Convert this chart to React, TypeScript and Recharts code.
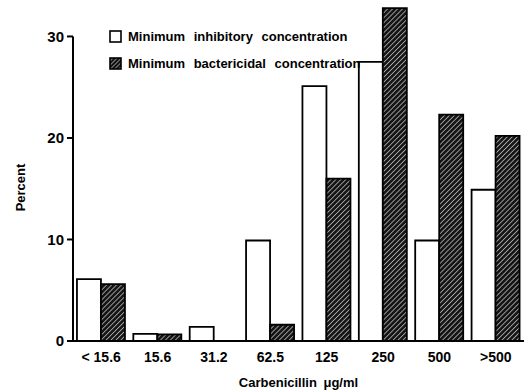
import React from 'react';
import {
  BarChart,
  Bar,
  XAxis,
  YAxis,
  ReferenceArea,
} from 'recharts';

const concentrations = ['< 15.6', '15.6', '31.2', '62.5', '125', '250', '500', '>500'];
const micValues = [6.1, 0.7, 1.4, 9.9, 25.1, 27.5, 9.9, 14.9];
const mbcValues = [5.6, 0.65, 0, 1.6, 16.0, 32.8, 22.3, 20.2];
const yTicks = [0, 10, 20, 30];
const seriesNames = ['Minimum inhibitory concentration', 'Minimum bactericidal concentration'];

const chartData = concentrations.map((c, i) => ({
  conc: c,
  mic: micValues[i],
  mbc: mbcValues[i],
}));

const font = '"Liberation Sans", Arial, sans-serif';

// draws the left axis line only up to the top tick (30), like the original
const AxisSpine = (props: any) => (
  <line
    x1={props.x}
    y1={props.y}
    x2={props.x}
    y2={props.y + props.height}
    stroke="#000"
    strokeWidth={2}
  />
);

const PercentLabel = (props: any) => {
  const vb = props.viewBox;
  const x = vb.x + 20;
  const y = vb.y + vb.height / 2 + 14;
  return (
    <text
      x={x}
      y={y}
      transform={`rotate(-90, ${x}, ${y})`}
      textAnchor="middle"
      dominantBaseline="central"
      fontFamily={font}
      fontWeight="bold"
      fontSize={13}
      fill="#000"
    >
      Percent
    </text>
  );
};

const Swatch = ({ hatched }: { hatched: boolean }) => (
  <svg width={13} height={13} style={{ display: 'block' }}>
    <defs>
      <pattern id="hatchSmall" patternUnits="userSpaceOnUse" width={3} height={3} patternTransform="rotate(45)">
        <rect width={3} height={3} fill="#111" />
        <line x1={0} y1={0} x2={0} y2={3} stroke="#fff" strokeWidth={1} />
      </pattern>
    </defs>
    <rect x={1} y={1} width={11} height={11} fill={hatched ? 'url(#hatchSmall)' : '#fff'} stroke="#000" strokeWidth={1.6} />
  </svg>
);

export default function App() {
  return (
    <div style={{ position: 'absolute', left: 0, top: 0, width: 530, height: 391, background: '#fff' }}>
      <BarChart
        width={530}
        height={391}
        data={chartData}
        margin={{ top: 6, right: 6, left: 0, bottom: 0 }}
        barGap={0}
        barCategoryGap="7%"
      >
        <defs>
          <pattern id="hatch" patternUnits="userSpaceOnUse" width={3.5} height={3.5} patternTransform="rotate(45)">
            <rect width={3.5} height={3.5} fill="#151515" />
            <line x1={0} y1={0} x2={0} y2={3.5} stroke="#fff" strokeWidth={1.1} />
          </pattern>
        </defs>
        <XAxis
          dataKey="conc"
          height={50}
          tickLine={false}
          tickSize={0}
          tickMargin={11}
          axisLine={{ stroke: '#000', strokeWidth: 2 }}
          tick={{ fill: '#000', fontFamily: font, fontWeight: 'bold', fontSize: 14 }}
          label={{
            value: 'Carbenicillin μg/ml',
            position: 'insideBottom',
            offset: 4,
            fill: '#000',
            fontFamily: font,
            fontWeight: 'bold',
            fontSize: 13,
            style: { wordSpacing: 3 },
          }}
        />
        <YAxis
          width={73}
          domain={[0, 33]}
          ticks={yTicks}
          axisLine={false}
          tickSize={6}
          tickMargin={3}
          tickLine={{ stroke: '#000', strokeWidth: 2 }}
          tick={{ fill: '#000', fontFamily: font, fontWeight: 'bold', fontSize: 15 }}
          label={<PercentLabel />}
        />
        <ReferenceArea y1={0} y2={30} shape={AxisSpine} />
        <Bar
          dataKey="mic"
          name={seriesNames[0]}
          fill="#fff"
          stroke="#000"
          strokeWidth={1.8}
          isAnimationActive={false}
        />
        <Bar
          dataKey="mbc"
          name={seriesNames[1]}
          fill="url(#hatch)"
          stroke="#000"
          strokeWidth={1.8}
          isAnimationActive={false}
        />
      </BarChart>
      {/* legend, top left inside the plot */}
      <div style={{ position: 'absolute', left: 109, top: 30, fontFamily: font, fontWeight: 'bold', fontSize: 13, color: '#000' }}>
        {seriesNames.map((n, i) => (
          <div key={n} style={{ display: 'flex', alignItems: 'center', height: 27, marginTop: i === 0 ? -7 : 0 }}>
            <Swatch hatched={i === 1} />
            <span style={{ marginLeft: 6, wordSpacing: 5, whiteSpace: 'nowrap' }}>{n}</span>
          </div>
        ))}
      </div>
    </div>
  );
}
